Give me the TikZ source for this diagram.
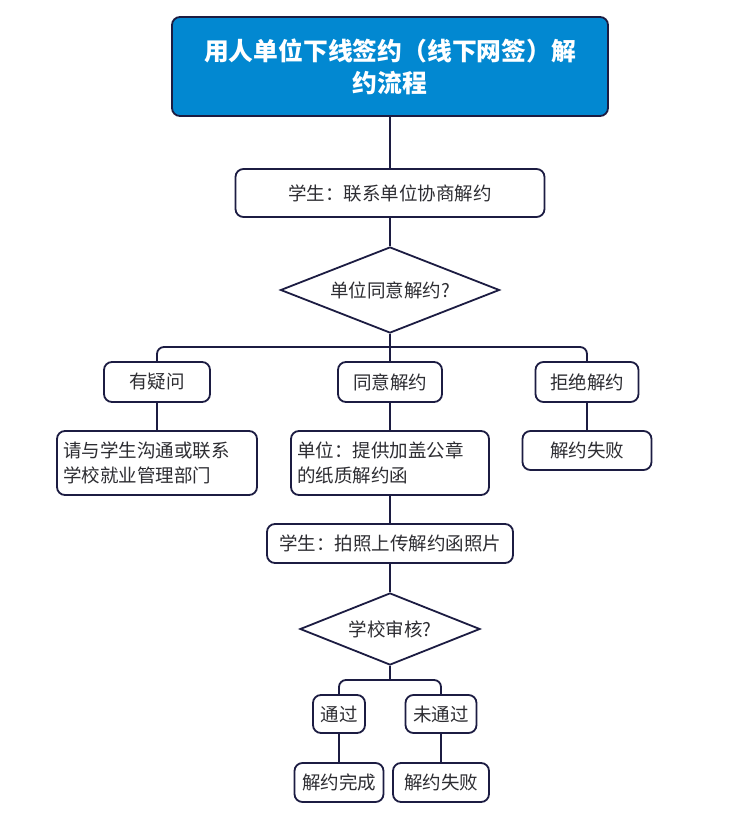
\documentclass[tikz,border=0pt]{standalone}
\usepackage{fontspec}
\setmainfont{Noto Sans CJK SC}
\usepackage{tikz}
\usetikzlibrary{shapes.geometric, positioning, calc}
\usepackage{xcolor}
\definecolor{navy}{RGB}{28,28,66}
\definecolor{headblue}{RGB}{2,136,209}
\definecolor{txt}{RGB}{45,45,50}

\begin{document}
\begin{tikzpicture}[x=1pt, y=-1pt,
  every node/.style={font=\fontsize{18.5}{25}\selectfont, text=txt},
  box/.style={draw=navy, line width=1.8pt, rounded corners=8pt, fill=white, inner sep=0pt, align=center},
  decision/.style={draw=navy, line width=1.8pt, diamond, aspect=2.5, inner sep=0pt, fill=white},
  headbox/.style={box, fill=headblue, text=white, font=\fontsize{24.8}{32}\selectfont\bfseries},
  link/.style={draw=navy, line width=1.8pt, rounded corners=7pt}]
  \useasboundingbox[fill=white] (0,0) rectangle (741,816);

  % Nodes
  \node[headbox, minimum width=436pt, minimum height=99pt] (head) at (390,66.5) {用人单位下线签约（线下网签）解\\约流程};
  \node[box, minimum width=309pt, minimum height=48pt] (contact) at (390,193) {学生：联系单位协商解约};
  \node[decision, minimum width=219pt, minimum height=86pt] (unitok) at (390,290) {单位同意解约?};

  \node[box, minimum width=106pt, minimum height=40pt] (doubt) at (157,382) {有疑问};
  \node[box, minimum width=104pt, minimum height=40pt] (agree) at (390,382) {同意解约};
  \node[box, minimum width=103pt, minimum height=40pt] (refuse) at (587,382) {拒绝解约};

  \node[box, minimum width=200pt, minimum height=64pt, text width=188pt, align=left] (ask) at (157,463) {请与学生沟通或联系\\学校就业管理部门};
  \node[box, minimum width=198pt, minimum height=64pt, text width=186pt, align=left] (letter) at (390,463) {单位：提供加盖公章\\的纸质解约函};
  \node[box, minimum width=129pt, minimum height=39pt] (fail) at (587,450.5) {解约失败};

  \node[box, minimum width=246pt, minimum height=39pt] (upload) at (390,543.5) {学生：拍照上传解约函照片};
  \node[decision, minimum width=180pt, minimum height=72pt] (review) at (390,629) {学校审核?};

  \node[box, minimum width=52pt, minimum height=38pt] (pass) at (339,714) {通过};
  \node[box, minimum width=71pt, minimum height=38pt] (nopass) at (441,714) {未通过};
  \node[box, minimum width=89pt, minimum height=39pt] (done) at (339,782.5) {解约完成};
  \node[box, minimum width=96pt, minimum height=39pt] (failb) at (441,782.5) {解约失败};

  % Connectors
  \coordinate (fork) at (390,347);
  \coordinate (forkb) at (390,680);
  \draw[link] (head.south) -- (contact.north);
  \draw[link] (contact.south) -- (unitok.north);
  \draw[link] (unitok.south) -- (agree.north);
  \draw[link] (fork) -| (doubt.north);
  \draw[link] (fork) -| (refuse.north);
  \draw[link] (doubt.south) -- (ask.north);
  \draw[link] (agree.south) -- (letter.north);
  \draw[link] (refuse.south) -- (fail.north);
  \draw[link] (letter.south) -- (upload.north);
  \draw[link] (upload.south) -- (review.north);
  \draw[link] (review.south) -- (forkb);
  \draw[link] (forkb) -| (pass.north);
  \draw[link] (forkb) -| (nopass.north);
  \draw[link] (pass.south) -- (done.north);
  \draw[link] (nopass.south) -- (failb.north);
\end{tikzpicture}
\end{document}
